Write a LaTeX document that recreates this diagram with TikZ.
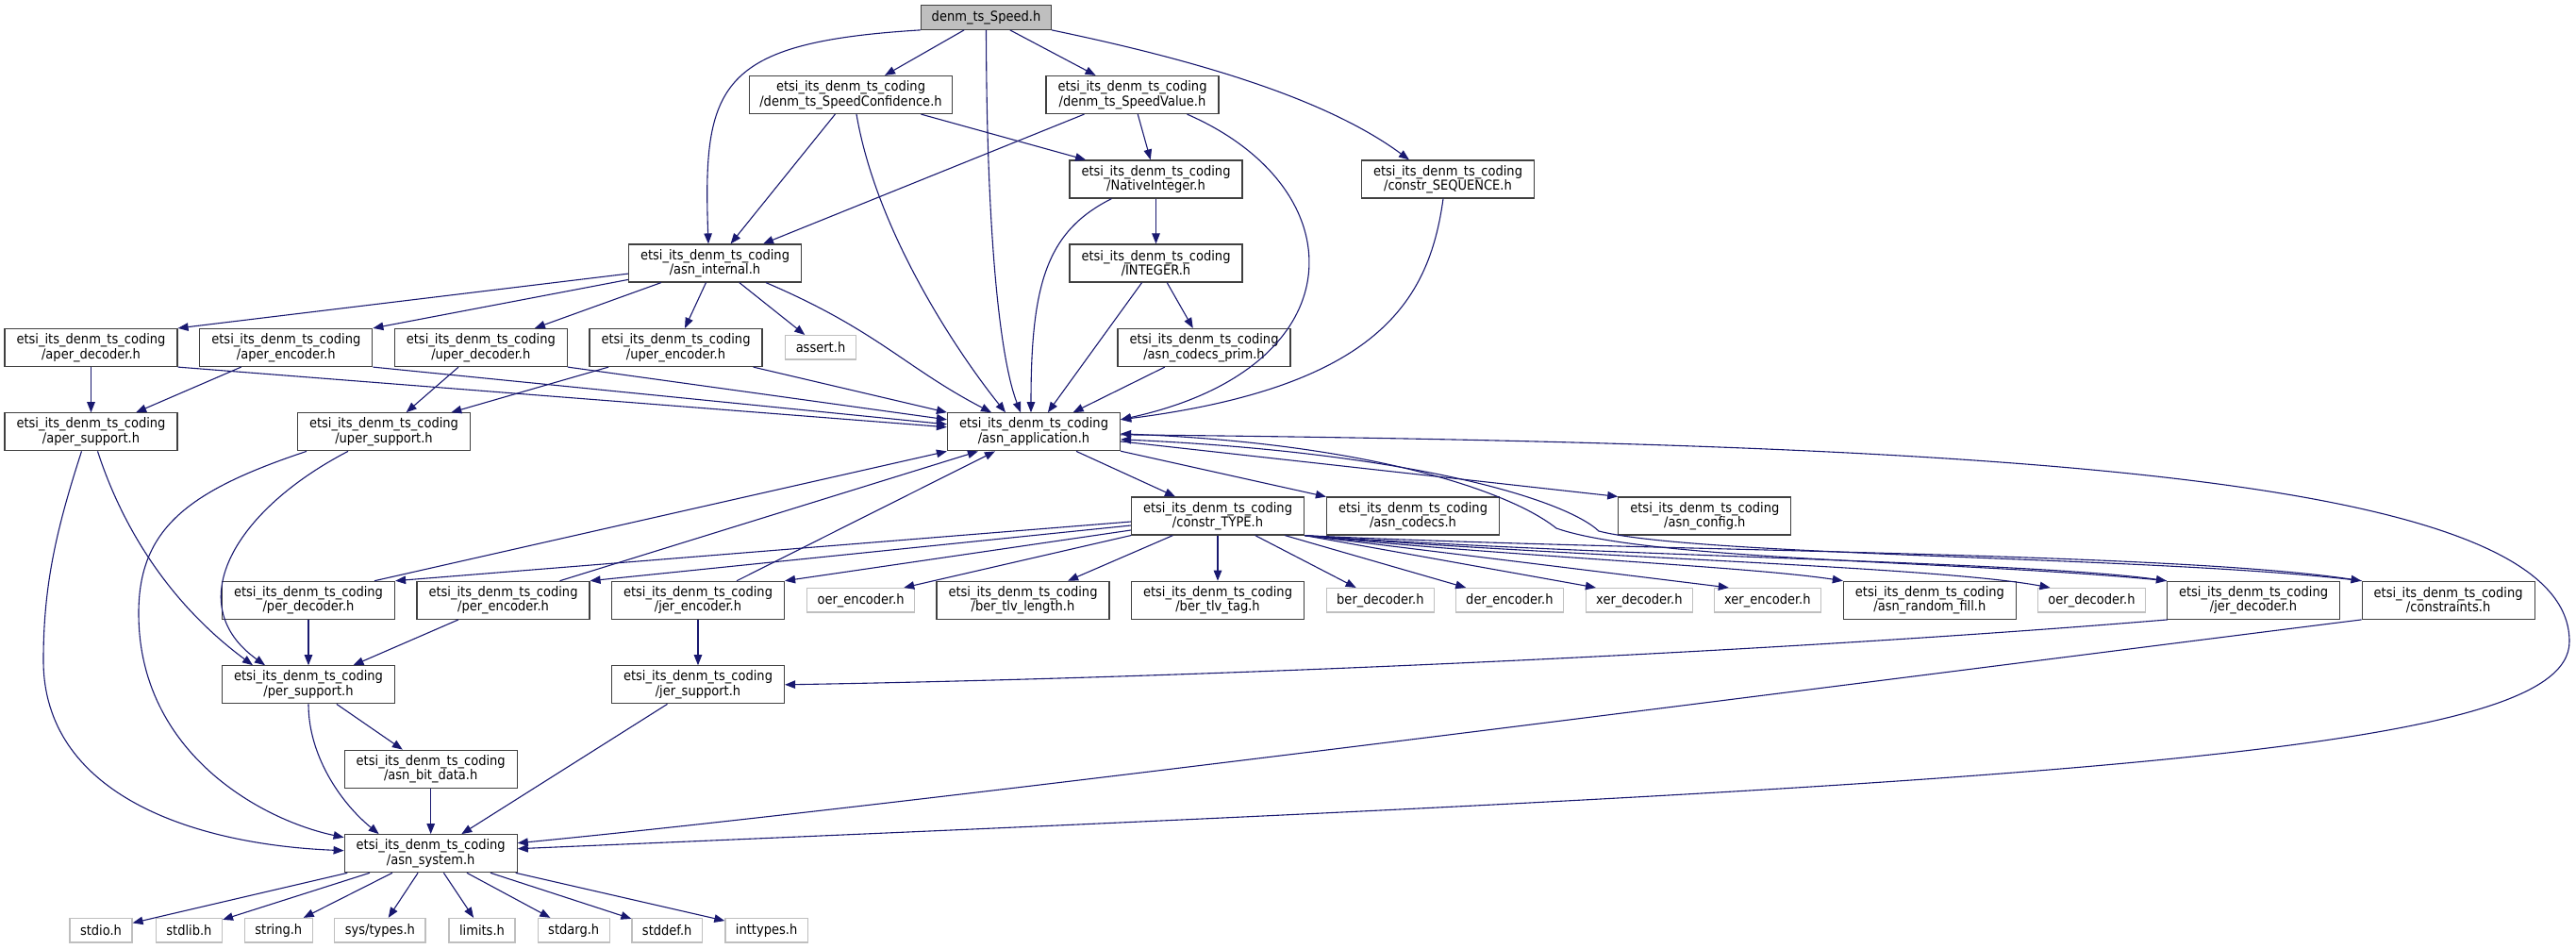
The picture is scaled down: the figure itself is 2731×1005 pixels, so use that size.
\documentclass[tikz,border=0pt]{standalone}
\usepackage{fontspec}
\setmainfont{DejaVu Sans Condensed}
\usetikzlibrary{arrows.meta,positioning,shapes}
\definecolor{edgeblue}{HTML}{191970}
\definecolor{boxgrey}{HTML}{404040}
\definecolor{extgrey}{HTML}{BFBFBF}
\tikzset{
  hdr/.style={draw=boxgrey,fill=white,line width=1.2pt,align=center,inner xsep=11pt,inner ysep=0pt,minimum width=183pt,minimum height=40pt,font=\fontsize{14.5}{14}\selectfont},
  sys/.style={hdr,draw=extgrey,minimum width=0pt,minimum height=25.5pt},
  top/.style={sys,draw=boxgrey,fill=extgrey},
  inc/.style={draw=edgeblue,line width=1.1pt,-{Triangle[length=11pt,width=8.5pt]}}
}

\begin{document}
\begin{tikzpicture}[x=1pt,y=-1pt]
    \useasboundingbox (0,0) rectangle (2731,1005);

    \node[top] (root) at (1045.5,18.5) {denm\_ts\_Speed.h};
    \node[hdr,minimum width=214pt] (conf) at (902,100.5) {etsi\_its\_denm\_ts\_coding\\/denm\_ts\_SpeedConfidence.h};
    \node[hdr] (value) at (1200.5,100.5) {etsi\_its\_denm\_ts\_coding\\/denm\_ts\_SpeedValue.h};
    \node[hdr] (seq) at (1535,190) {etsi\_its\_denm\_ts\_coding\\/constr\_SEQUENCE.h};
    \node[hdr] (native) at (1225.5,190) {etsi\_its\_denm\_ts\_coding\\/NativeInteger.h};
    \node[hdr] (integer) at (1225.5,279) {etsi\_its\_denm\_ts\_coding\\/INTEGER.h};
    \node[hdr] (internal) at (758,279) {etsi\_its\_denm\_ts\_coding\\/asn\_internal.h};

    \node[hdr] (aperdec) at (96.5,368.5) {etsi\_its\_denm\_ts\_coding\\/aper\_decoder.h};
    \node[hdr] (aperenc) at (303.3,368.5) {etsi\_its\_denm\_ts\_coding\\/aper\_encoder.h};
    \node[hdr] (uperdec) at (509.8,368.5) {etsi\_its\_denm\_ts\_coding\\/uper\_decoder.h};
    \node[hdr] (uperenc) at (716.5,368.5) {etsi\_its\_denm\_ts\_coding\\/uper\_encoder.h};
    \node[sys] (assert) at (870,368.3) {assert.h};
    \node[hdr] (prim) at (1276.5,368.5) {etsi\_its\_denm\_ts\_coding\\/asn\_codecs\_prim.h};

    \node[hdr] (apersup) at (96.5,457.8) {etsi\_its\_denm\_ts\_coding\\/aper\_support.h};
    \node[hdr] (upersup) at (407,457.8) {etsi\_its\_denm\_ts\_coding\\/uper\_support.h};
    \node[hdr] (app) at (1096,457.8) {etsi\_its\_denm\_ts\_coding\\/asn\_application.h};

    \node[hdr] (type) at (1291,547) {etsi\_its\_denm\_ts\_coding\\/constr\_TYPE.h};
    \node[hdr] (codecs) at (1498,547) {etsi\_its\_denm\_ts\_coding\\/asn\_codecs.h};
    \node[hdr] (config) at (1807.3,547) {etsi\_its\_denm\_ts\_coding\\/asn\_config.h};

    \node[hdr] (perdec) at (327,636.3) {etsi\_its\_denm\_ts\_coding\\/per\_decoder.h};
    \node[hdr] (perenc) at (533.5,636.3) {etsi\_its\_denm\_ts\_coding\\/per\_encoder.h};
    \node[hdr] (jerenc) at (740,636.3) {etsi\_its\_denm\_ts\_coding\\/jer\_encoder.h};
    \node[sys] (oerenc) at (912.6,636.3) {oer\_encoder.h};
    \node[hdr] (tlvlen) at (1084.5,636.3) {etsi\_its\_denm\_ts\_coding\\/ber\_tlv\_length.h};
    \node[hdr] (tlvtag) at (1291,636.3) {etsi\_its\_denm\_ts\_coding\\/ber\_tlv\_tag.h};
    \node[sys] (berdec) at (1463.4,636.3) {ber\_decoder.h};
    \node[sys] (derenc) at (1600.4,636.3) {der\_encoder.h};
    \node[sys] (xerdec) at (1737.9,636.3) {xer\_decoder.h};
    \node[sys] (xerenc) at (1873.8,636.3) {xer\_encoder.h};
    \node[hdr] (rndfill) at (2045.9,636.3) {etsi\_its\_denm\_ts\_coding\\/asn\_random\_fill.h};
    \node[sys] (oerdec) at (2217.5,636.3) {oer\_decoder.h};
    \node[hdr] (jerdec) at (2389,636.3) {etsi\_its\_denm\_ts\_coding\\/jer\_decoder.h};
    \node[hdr] (constr) at (2595.6,636.3) {etsi\_its\_denm\_ts\_coding\\/constraints.h};

    \node[hdr] (persup) at (327,725.8) {etsi\_its\_denm\_ts\_coding\\/per\_support.h};
    \node[hdr] (jersup) at (740,725.8) {etsi\_its\_denm\_ts\_coding\\/jer\_support.h};
    \node[hdr] (bitdata) at (456.7,815.2) {etsi\_its\_denm\_ts\_coding\\/asn\_bit\_data.h};
    \node[hdr] (system) at (456.7,904.7) {etsi\_its\_denm\_ts\_coding\\/asn\_system.h};

    \node[sys] (stdio) at (107,986.2) {stdio.h};
    \node[sys] (stdlib) at (200.4,986.2) {stdlib.h};
    \node[sys] (string) at (295.3,986.2) {string.h};
    \node[sys] (systypes) at (402.9,986.2) {sys/types.h};
    \node[sys] (limits) at (511,986.2) {limits.h};
    \node[sys] (stdarg) at (608.2,986.2) {stdarg.h};
    \node[sys] (stddef) at (707.2,986.2) {stddef.h};
    \node[sys] (inttypes) at (812.6,986.2) {inttypes.h};

    \draw[inc] (root.south west) .. controls (760,45) and (745,90) .. ([xshift=-7pt]internal.north);
    \draw[inc] (root) -- (conf);
    \draw[inc] (root.south) .. controls (1046,250) and (1060,380) .. ([xshift=-14pt]app.north);
    \draw[inc] (root) -- (value);
    \draw[inc] (root.south east) .. controls (1250,60) and (1400,100) .. ([xshift=-41pt]seq.north);

    \draw[inc] (conf) -- (internal);
    \draw[inc] ([xshift=6pt]conf.south) .. controls (930,250) and (1020,380) .. ([xshift=-30pt]app.north);
    \draw[inc] (conf) -- (native);
    \draw[inc] (value) -- (internal);
    \draw[inc] (value) -- (native);
    \draw[inc] ([xshift=58pt]value.south) .. controls (1440,200) and (1440,390) .. ([yshift=13pt]app.east);
    \draw[inc] ([xshift=-5pt]seq.south) .. controls (1515,320) and (1460,410) .. ([yshift=13pt]app.east);
    \draw[inc] (native) -- (integer);
    \draw[inc] ([xshift=-47pt]native.south) .. controls (1110,245) and (1093,300) .. ([xshift=-3pt]app.north);
    \draw[inc] (integer) -- (app);
    \draw[inc] (integer) -- (prim);
    \draw[inc] (prim) -- (app);

    \draw[inc] (internal) -- (aperdec.north east);
    \draw[inc] (internal) -- (aperenc.north east);
    \draw[inc] (internal) -- (uperdec);
    \draw[inc] (internal) -- (uperenc);
    \draw[inc] (internal) -- (assert);
    \draw[inc] ([xshift=54pt]internal.south) .. controls (930,350) and (960,390) .. ([xshift=-45pt]app.north);

    \draw[inc] (aperdec) -- (apersup);
    \draw[inc] (aperdec.south east) -- ([yshift=5pt]app.west);
    \draw[inc] (aperenc) -- (apersup);
    \draw[inc] (aperenc.south east) -- ([yshift=8pt]app.west);
    \draw[inc] (uperdec) -- (upersup);
    \draw[inc] (uperdec.south east) -- ([yshift=13pt]app.west);
    \draw[inc] (uperenc) -- (upersup);
    \draw[inc] ([xshift=-10pt]uperenc.south east) -- (app.north west);

    \draw[inc] ([xshift=-10pt]apersup.south) .. controls (60,560) and (46,620) .. (46,700) .. controls (46,840) and (200,895) .. ([yshift=3pt]system.west);
    \draw[inc] ([xshift=7pt]apersup.south) .. controls (130,560) and (180,640) .. ([xshift=-59pt]persup.north);
    \draw[inc] ([xshift=-82pt]upersup.south) .. controls (200,520) and (147,560) .. (147,650) .. controls (147,800) and (280,870) .. ([yshift=17pt]system.west);
    \draw[inc] ([xshift=-38pt]upersup.south) .. controls (250,540) and (190,640) .. ([xshift=-46pt]persup.north);

    \draw[inc] ([xshift=70pt]perdec.north) -- (app.south west);
    \draw[inc] (perdec) -- (persup);
    \draw[inc] ([xshift=60pt]perenc.north) -- ([xshift=33pt]app.south west);
    \draw[inc] (perenc) -- (persup);
    \draw[inc] (jerenc) -- (app);
    \draw[inc] (jerenc) -- (jersup);
    \draw[inc] (persup.south) .. controls (327,800) and (360,850) .. ([xshift=-55pt]system.north);
    \draw[inc] (persup) -- (bitdata);
    \draw[inc] (bitdata) -- (system);
    \draw[inc] (jersup) -- (system);

    \draw[inc] (app) -- (type);
    \draw[inc] (app) -- (codecs);
    \draw[inc] (app) -- (config.north west);
    \draw[inc] ([yshift=-3pt]app.east) .. controls (2100,470) and (2724,500) .. (2724,680) .. controls (2724,800) and (2200,830) .. ([yshift=5pt]system.east);

    \draw[inc] ([yshift=-6pt]type.west) -- (perdec.north east);
    \draw[inc] ([yshift=-10pt]type.west) -- (perenc.north east);
    \draw[inc] ([yshift=-15pt]type.west) -- (jerenc.north east);
    \draw[inc] (type.south west) -- ([xshift=-12pt]oerenc.north east);
    \draw[inc] (type) -- (tlvlen);
    \draw[inc] (type) -- (tlvtag);
    \draw[inc] (type) -- (berdec);
    \draw[inc] (type) -- (derenc);
    \draw[inc] (type.south east) -- ([xshift=-46pt]xerdec.north);
    \draw[inc] (type.south east) -- ([xshift=-41pt]xerenc.north);
    \draw[inc] (type.south east) .. controls (1600,590) and (1850,600) .. (rndfill.north west);
    \draw[inc] (type.south east) .. controls (1650,590) and (2050,600) .. ([xshift=-44pt]oerdec.north);
    \draw[inc] (type.south east) .. controls (1700,590) and (2150,595) .. (jerdec.north west);
    \draw[inc] (type.south east) .. controls (1750,585) and (2300,585) .. (constr.north west);

    \draw[inc] (jerdec.north west) .. controls (2100,595) and (1750,595) .. (1650,560) .. controls (1600,520) and (1450,470) .. ([yshift=-2pt]app.east);
    \draw[inc] (constr.north west) .. controls (2300,590) and (1800,590) .. (1695,563) .. controls (1660,530) and (1500,480) .. ([yshift=-8pt]app.east);
    \draw[inc] ([xshift=-91pt]jerdec.south) .. controls (1900,690) and (1300,718) .. (jersup.east);
    \draw[inc] ([xshift=-92pt]constr.south) .. controls (2000,720) and (1000,850) .. ([yshift=11pt]system.east);

    \draw[inc] (system) -- (stdio);
    \draw[inc] (system) -- (stdlib);
    \draw[inc] (system) -- (string);
    \draw[inc] (system) -- (systypes);
    \draw[inc] (system) -- (limits);
    \draw[inc] (system) -- (stdarg);
    \draw[inc] (system) -- (stddef);
    \draw[inc] (system) -- (inttypes);
  \end{tikzpicture}
\end{document}
